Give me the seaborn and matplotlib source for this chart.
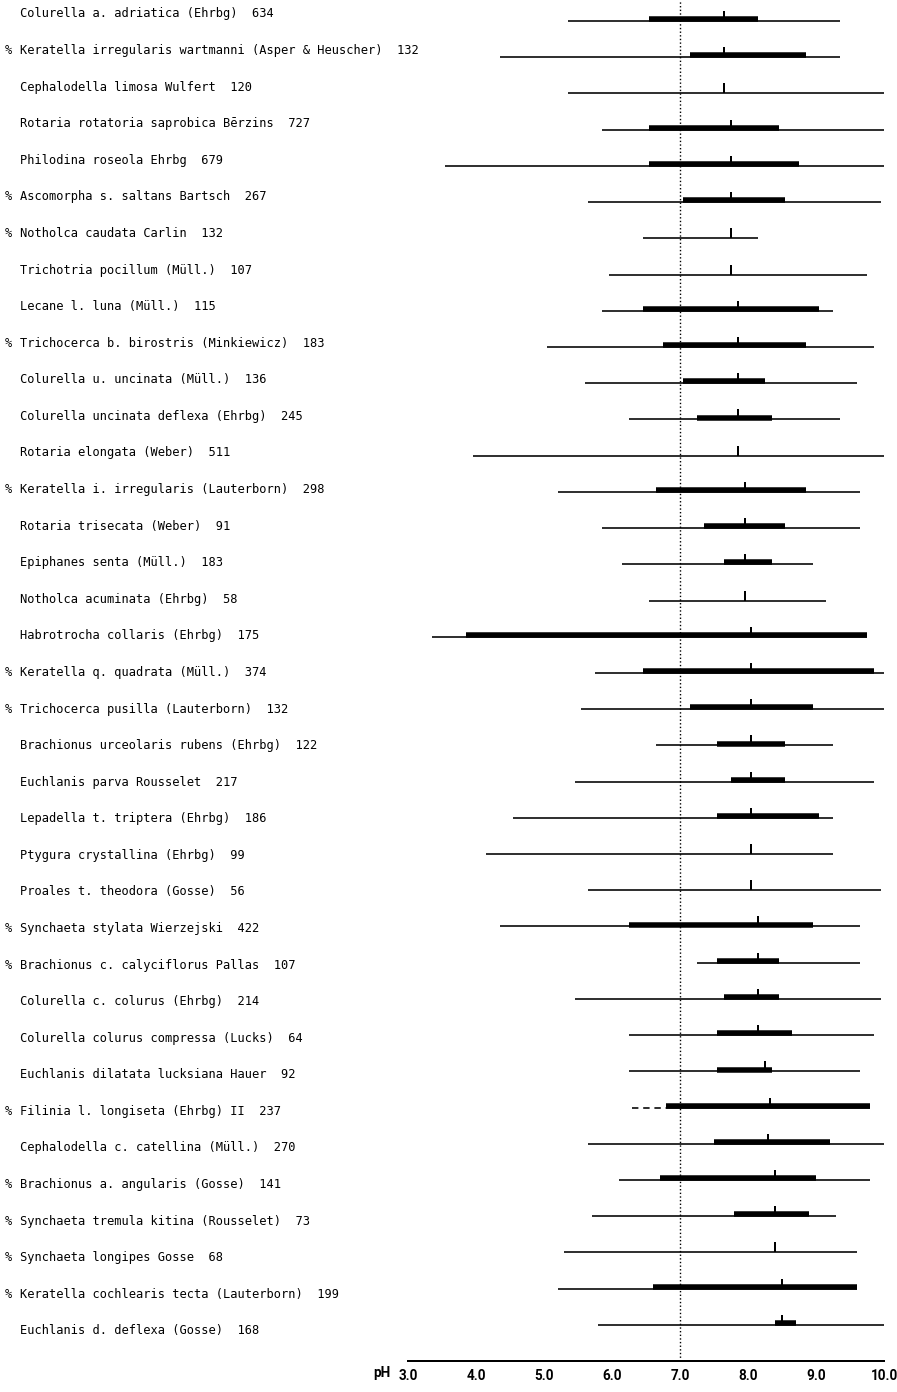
import numpy as np
import pandas as pd
import matplotlib
matplotlib.use("Agg")
import matplotlib.pyplot as plt
import seaborn as sns

# Rotifer species, percent-marked flag and number of samples
species = [
    "Colurella a. adriatica (Ehrbg)",
    "Keratella irregularis wartmanni (Asper & Heuscher)",
    "Cephalodella limosa Wulfert",
    "Rotaria rotatoria saprobica Bērzins",
    "Philodina roseola Ehrbg",
    "Ascomorpha s. saltans Bartsch",
    "Notholca caudata Carlin",
    "Trichotria pocillum (Müll.)",
    "Lecane l. luna (Müll.)",
    "Trichocerca b. birostris (Minkiewicz)",
    "Colurella u. uncinata (Müll.)",
    "Colurella uncinata deflexa (Ehrbg)",
    "Rotaria elongata (Weber)",
    "Keratella i. irregularis (Lauterborn)",
    "Rotaria trisecata (Weber)",
    "Epiphanes senta (Müll.)",
    "Notholca acuminata (Ehrbg)",
    "Habrotrocha collaris (Ehrbg)",
    "Keratella q. quadrata (Müll.)",
    "Trichocerca pusilla (Lauterborn)",
    "Brachionus urceolaris rubens (Ehrbg)",
    "Euchlanis parva Rousselet",
    "Lepadella t. triptera (Ehrbg)",
    "Ptygura crystallina (Ehrbg)",
    "Proales t. theodora (Gosse)",
    "Synchaeta stylata Wierzejski",
    "Brachionus c. calyciflorus Pallas",
    "Colurella c. colurus (Ehrbg)",
    "Colurella colurus compressa (Lucks)",
    "Euchlanis dilatata lucksiana Hauer",
    "Filinia l. longiseta (Ehrbg) II",
    "Cephalodella c. catellina (Müll.)",
    "Brachionus a. angularis (Gosse)",
    "Synchaeta tremula kitina (Rousselet)",
    "Synchaeta longipes Gosse",
    "Keratella cochlearis tecta (Lauterborn)",
    "Euchlanis d. deflexa (Gosse)",
]
marked = [0, 1, 0, 0, 0, 1, 1, 0, 0, 1, 0, 0, 0, 1, 0, 0, 0, 0, 1, 1, 0, 0, 0, 0, 0,
          1, 1, 0, 0, 0, 1, 0, 1, 1, 1, 1, 0]
n_samples = [634, 132, 120, 727, 679, 267, 132, 107, 115, 183, 136, 245, 511, 298, 91,
             183, 58, 175, 374, 132, 122, 217, 186, 99, 56, 422, 107, 214, 64, 92, 237,
             270, 141, 73, 68, 199, 168]

# pH distribution per species: range, quartiles and median
ph_min = [5.35, 4.35, 5.35, 5.85, 3.55, 5.65, 6.45, 5.95, 5.85, 5.05, 5.60, 6.25, 3.95,
          5.20, 5.85, 6.15, 6.55, 3.35, 5.75, 5.55, 6.65, 5.45, 4.55, 4.15, 5.65, 4.35,
          7.25, 5.45, 6.25, 6.25, 6.30, 5.65, 6.10, 5.70, 5.30, 5.20, 5.80]
ph_q1 = [6.55, 7.15, np.nan, 6.55, 6.55, 7.05, np.nan, np.nan, 6.45, 6.75, 7.05, 7.25,
         np.nan, 6.65, 7.35, 7.65, np.nan, 3.85, 6.45, 7.15, 7.55, 7.75, 7.55, np.nan,
         np.nan, 6.25, 7.55, 7.65, 7.55, 7.55, 6.80, 7.50, 6.70, 7.80, np.nan, 6.60, 8.40]
ph_median = [7.65, 7.65, 7.65, 7.75, 7.75, 7.75, 7.75, 7.75, 7.85, 7.85, 7.85, 7.85,
             7.85, 7.95, 7.95, 7.95, 7.95, 8.05, 8.05, 8.05, 8.05, 8.05, 8.05, 8.05,
             8.05, 8.15, 8.15, 8.15, 8.15, 8.25, 8.32, 8.30, 8.40, 8.40, 8.40, 8.50, 8.50]
ph_q3 = [8.15, 8.85, np.nan, 8.45, 8.75, 8.55, np.nan, np.nan, 9.05, 8.85, 8.25, 8.35,
         np.nan, 8.85, 8.55, 8.35, np.nan, 9.75, 9.85, 8.95, 8.55, 8.55, 9.05, np.nan,
         np.nan, 8.95, 8.45, 8.45, 8.65, 8.35, 9.80, 9.20, 9.00, 8.90, np.nan, 9.60, 8.70]
ph_max = [9.35, 9.35, 10.0, 10.0, 10.0, 9.95, 8.15, 9.75, 9.25, 9.85, 9.60, 9.35, 10.0,
          9.65, 9.65, 8.95, 9.15, 9.75, 10.0, 10.0, 9.25, 9.85, 9.25, 9.25, 9.95, 9.65,
          9.65, 9.95, 9.85, 9.65, 9.80, 10.0, 9.80, 9.30, 9.60, 9.60, 10.0]
# species whose lower range end is uncertain (drawn dashed)
uncertain_low = ["Filinia l. longiseta (Ehrbg) II"]

ph_ticks = [3.0, 4.0, 5.0, 6.0, 7.0, 8.0, 9.0, 10.0]
neutral_ph = 7.0

# ---------------------------------------------------------------- layout
W, H = 897, 1392
DPI = 100
PX = 72.0 / DPI                      # points per pixel
row_top, row_step = 21.0, 36.22      # pixel row geometry of the strip plot
axis_y = 1361.0
x_left, x_right = 408.0, 884.0
AXIS_FONT = ["Roboto", "DejaVu Sans"]

sns.set_style("white")
plt.rcParams["font.family"] = ["DejaVu Sans Mono", "DejaVu Sans"]
plt.rcParams["text.color"] = "black"
plt.rcParams["xtick.color"] = "black"
plt.rcParams["xtick.labelcolor"] = "black"

fig = plt.figure(figsize=(W / DPI, H / DPI), dpi=DPI)
ax = fig.add_axes([x_left / W, 1 - axis_y / H, (x_right - x_left) / W, axis_y / H])
ax.set_xlim(3.0, 10.0)
ax.set_ylim((axis_y - row_top) / row_step, -row_top / row_step)

n = len(species)
rows = np.arange(n)
dashed = np.array([s in uncertain_low for s in species])
q1 = np.array(ph_q1, dtype=float)
lo = np.array(ph_min, dtype=float)
hi = np.array(ph_max, dtype=float)

# full range (thin line); uncertain lower part drawn separately
solid_lo = np.where(dashed, q1, lo)
range_df = pd.DataFrame({
    "row": np.concatenate([rows, rows]),
    "pH": np.concatenate([solid_lo, hi]),
    "sp": np.concatenate([rows, rows]),
})
sns.lineplot(data=range_df, x="pH", y="row", units="sp", estimator=None,
             color="black", lw=1.6 * PX, sort=True, ax=ax, legend=False,
             clip_on=False, solid_capstyle="butt")

dash_idx = rows[dashed]
dash_df = pd.DataFrame({
    "row": np.concatenate([dash_idx, dash_idx]),
    "pH": np.concatenate([lo[dashed], q1[dashed]]),
    "sp": np.concatenate([dash_idx, dash_idx]),
})
sns.lineplot(data=dash_df, x="pH", y="row", units="sp", estimator=None,
             color="black", lw=1.6 * PX, dashes=False, ax=ax, legend=False,
             linestyle=(0, (4, 3)))

# interquartile range (thick bar sitting on the thin line)
has_iqr = ~np.isnan(q1)
iqr_idx = rows[has_iqr]
lift = 1.8 / row_step
iqr_df = pd.DataFrame({
    "row": np.concatenate([iqr_idx, iqr_idx]) - lift,
    "pH": np.concatenate([q1[has_iqr], np.array(ph_q3)[has_iqr]]),
    "sp": np.concatenate([iqr_idx, iqr_idx]),
})
sns.lineplot(data=iqr_df, x="pH", y="row", units="sp", estimator=None,
             color="black", lw=5.5 * PX, ax=ax, legend=False,
             solid_capstyle="butt")

# median tick
med_df = pd.DataFrame({"pH": ph_median, "row": rows})
sns.scatterplot(data=med_df, x="pH", y="row", marker=2, s=(10 * PX) ** 2,
                color="black", linewidth=2 * PX, ax=ax, legend=False, zorder=5)

# neutral pH reference
ax.axvline(neutral_ph, color="black", lw=1.4 * PX, ls=(0, (1, 1.6)), zorder=1)

# axis styling
for side in ("left", "top", "right"):
    ax.spines[side].set_visible(False)
ax.spines["bottom"].set_linewidth(2 * PX)
ax.spines["bottom"].set_color("black")
ax.set_yticks([])
ax.set_xticks(ph_ticks)
ax.set_xticklabels([f"{t:.1f}" for t in ph_ticks])
ax.tick_params(axis="x", direction="out", length=7 * PX, width=2 * PX,
               pad=0.5, colors="black", labelcolor="black")
for lab in ax.get_xticklabels():
    lab.set_fontfamily(AXIS_FONT)
    lab.set_fontweight("bold")
    lab.set_fontsize(13.5 * PX)
    lab.set_color("black")
ax.set_xlabel("")
ax.set_ylabel("")

fig.text(373 / W, 1 - 1373 / H, "pH", ha="left", va="center",
         fontsize=13.5 * PX, fontweight="bold", family=AXIS_FONT, color="black")

# species labels
text_top, text_step = 14.0, 36.58
for i, (name, m, cnt) in enumerate(zip(species, marked, n_samples)):
    y = 1 - (text_top + text_step * i) / H
    if m:
        fig.text(5 / W, y, "%", ha="left", va="center", fontsize=12 * PX,
                 color="black")
    fig.text(20 / W, y, f"{name}  {cnt}", ha="left", va="center",
             fontsize=12 * PX, color="black")

fig.savefig("out.png", dpi=DPI, facecolor="white")
